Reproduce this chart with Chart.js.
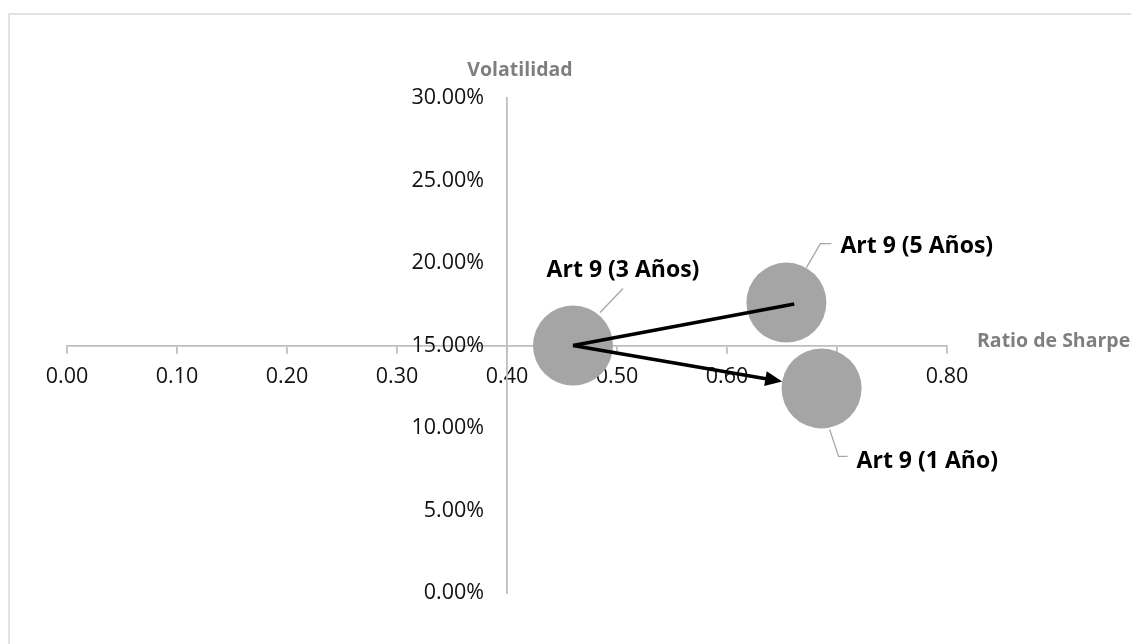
<!DOCTYPE html>
<html><head><meta charset="utf-8">
<script src="https://cdn.jsdelivr.net/npm/chart.js@4.4.1/dist/chart.umd.min.js"></script>
<style>html,body{margin:0;padding:0;background:#fff;}#wrap{width:1131px;height:644px;position:relative;}</style>
</head><body><div id="wrap"><canvas id="c" width="1131" height="644"></canvas></div>
<script>
// ---- data ----
const categories = ['Art 9 (1 Año)', 'Art 9 (3 Años)', 'Art 9 (5 Años)'];
const sharpeRatio = [0.686, 0.46, 0.654];
const volatility = [12.4, 15.0, 17.6];     // percent
const bubbleSize = [40, 40, 40];
const xTickValues = [0, 0.1, 0.2, 0.3, 0.4, 0.5, 0.6, 0.7, 0.8];
const yTickValues = [0, 5, 10, 15, 20, 25, 30];
const xAxisTitle = 'Ratio de Sharpe';
const yAxisTitle = 'Volatilidad';
const arrowFrom = 1;            // 3 Años
const lineTo = 2;               // 5 Años (plain line)
const arrowTo = 0;              // 1 Año (arrow head)

const FONT = "'Open Sans', 'Liberation Sans', sans-serif";
const AXIS_GREY = '#BFBFBF';
const Y_LABEL_GAP = 23;

// label placement (offsets from bubble centre) and leader paths
const labelLayout = [
  {dx: 35, dy: 73, align: 'left', leader: [[8, 41], [17, 68], [26, 68]]},
  {dx: 50, dy: -75, align: 'center', leader: [[27, -33], [50, -57]]},
  {dx: 54, dy: -56, align: 'left', leader: [[20, -35], [34, -59], [45, -59]]}
];

const decor = {
  id: 'decor',
  beforeDraw(chart) {
    const ctx = chart.ctx;
    ctx.save();
    ctx.strokeStyle = '#D9D9D9';
    ctx.lineWidth = 1.5;
    ctx.strokeRect(9, 14, 1300, 800);
    ctx.restore();
    // push y tick labels away from the crossing axis line
    const ys = chart.scales.y;
    const items = ys.getLabelItems(chart.chartArea);
    if (!ys._shifted) {
      items.forEach(it => { it.options.translation[0] -= Y_LABEL_GAP; });
      ys._shifted = true;
    }
  },
  afterDatasetsDraw(chart) {
    const ctx = chart.ctx;
    const meta = chart.getDatasetMeta(0);
    const pts = meta.data.map(p => ({x: p.x, y: p.y}));
    ctx.save();
    // arrows
    ctx.strokeStyle = '#000';
    ctx.fillStyle = '#000';
    ctx.lineWidth = 3.5;
    ctx.lineCap = 'butt';
    const a = pts[arrowFrom];
    {
      const b = pts[lineTo];
      const dx = b.x - a.x, dy = b.y - a.y, d = Math.hypot(dx, dy);
      ctx.beginPath();
      ctx.moveTo(a.x, a.y);
      ctx.lineTo(b.x + dx / d * 8, b.y + dy / d * 8 + 3);
      ctx.stroke();
    }
    {
      const b = pts[arrowTo];
      const r = bubbleSize[arrowTo];
      const dx = b.x - a.x, dy = b.y - a.y, d = Math.hypot(dx, dy);
      const ux = dx / d, uy = dy / d;
      const tx = b.x - ux * r, ty = b.y - uy * r;
      const hl = 17, hw = 7.5;
      ctx.beginPath();
      ctx.moveTo(a.x, a.y);
      ctx.lineTo(tx - ux * hl * 0.8, ty - uy * hl * 0.8);
      ctx.stroke();
      ctx.beginPath();
      ctx.moveTo(tx, ty);
      ctx.lineTo(tx - ux * hl - uy * hw, ty - uy * hl + ux * hw);
      ctx.lineTo(tx - ux * hl + uy * hw, ty - uy * hl - ux * hw);
      ctx.closePath();
      ctx.fill();
    }
    // leader lines + labels
    pts.forEach((p, i) => {
      const L = labelLayout[i];
      ctx.strokeStyle = '#A6A6A6';
      ctx.lineWidth = 1.3;
      ctx.beginPath();
      L.leader.forEach((q, k) => {
        if (k === 0) ctx.moveTo(p.x + q[0], p.y + q[1]);
        else ctx.lineTo(p.x + q[0], p.y + q[1]);
      });
      ctx.stroke();
      ctx.fillStyle = '#000';
      ctx.font = 'bold 23px ' + FONT;
      ctx.textAlign = L.align;
      ctx.textBaseline = 'middle';
      ctx.fillText(categories[i], p.x + L.dx, p.y + L.dy);
    });
    // axis titles
    ctx.fillStyle = '#7F7F7F';
    ctx.font = 'bold 19.5px ' + FONT;
    ctx.textBaseline = 'middle';
    ctx.textAlign = 'center';
    const xs = chart.scales.x, ys = chart.scales.y;
    ctx.fillText(yAxisTitle, xs.getPixelForValue(0.4) + 13, ys.top - 28);
    ctx.textAlign = 'left';
    ctx.fillText(xAxisTitle, xs.right + 30, ys.getPixelForValue(15) - 4);
    ctx.restore();
  }
};

const chart = new Chart(document.getElementById('c'), {
  type: 'bubble',
  data: {
    datasets: [{
      label: 'Art 9',
      data: categories.map((c, i) => ({x: sharpeRatio[i], y: volatility[i], r: bubbleSize[i]})),
      backgroundColor: '#A5A5A5',
      borderColor: '#A5A5A5',
      borderWidth: 0
    }]
  },
  options: {
    responsive: false,
    animation: false,
    devicePixelRatio: 1,
    layout: {padding: {left: 67, right: 184, top: 98, bottom: 51}},
    plugins: {legend: {display: false}, tooltip: {enabled: false}},
    scales: {
      x: {
        type: 'linear',
        min: 0, max: 0.8,
        position: {y: 15},
        afterBuildTicks: s => { s.ticks = xTickValues.map(v => ({value: v})); },
        ticks: {
          font: {family: FONT, size: 21.5},
          color: '#111',
          padding: 11,
          maxRotation: 0,
          callback: v => v.toFixed(2)
        },
        grid: {drawOnChartArea: false, color: AXIS_GREY, tickLength: 7, lineWidth: 1.8},
        border: {color: AXIS_GREY, width: 1.8}
      },
      y: {
        type: 'linear',
        min: 0, max: 30,
        position: {x: 0.4},
        afterBuildTicks: s => { s.ticks = yTickValues.map(v => ({value: v})); },
        ticks: {
          font: {family: FONT, size: 21.5},
          color: '#111',
          padding: 22,
          callback: v => v.toFixed(2) + '%'
        },
        grid: {drawOnChartArea: false, drawTicks: false, color: AXIS_GREY},
        border: {color: AXIS_GREY, width: 1.8}
      }
    }
  },
  plugins: [decor]
});
</script>
</body></html>
